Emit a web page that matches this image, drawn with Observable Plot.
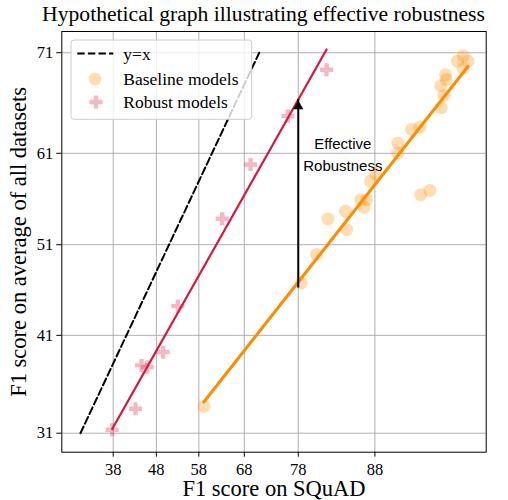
<!DOCTYPE html>
<html>
<head>
<meta charset="utf-8">
<script src="https://cdn.jsdelivr.net/npm/d3@7"></script>
<script src="https://cdn.jsdelivr.net/npm/@observablehq/plot@0.6"></script>
<style>
  html, body { margin: 0; padding: 0; background: #fff; }
  #wrap { position: relative; width: 508px; height: 500px; }
  #legend { position: absolute; left: 0; top: 0; pointer-events: none; }
</style>
</head>
<body>
<div id="wrap"></div>
<script>
// ---------- data ----------
const title = "Hypothetical graph illustrating effective robustness";
const xLabel = "F1 score on SQuAD";
const yLabel = "F1 score on average of all datasets";
const xTicks = [38, 48, 58, 68, 78, 88];
const yTicks = [31, 41, 51, 61, 71];
const xLimits = [27.35, 95.47];
const yLimits = [29.22, 72.91];

const baselineX = [94.43, 94.13, 94.66, 94.43, 93.48, 93.52, 93.19, 93.38, 93.23, 91.83,
                   91.22, 90.12, 90.12, 88.07, 87.57, 92.51, 91.88, 86.50, 87.15, 86.88,
                   84.74, 82.46, 84.87, 80.83, 78.48, 59.15];
const baselineY = [70.72, 70.22, 70.22, 69.55, 68.94, 68.46, 67.88, 66.93, 65.71, 63.73,
                   63.50, 62.07, 61.02, 58.81, 58.01, 57.00, 56.54, 55.98, 55.98, 55.16,
                   54.72, 53.86, 52.70, 49.92, 46.76, 33.61];

const robustX = [82.26, 76.26, 69.28, 63.29, 53.08, 49.62, 44.50, 45.83, 43.09, 37.78];
const robustY = [69.42, 64.86, 59.81, 53.88, 44.18, 39.20, 37.80, 37.62, 33.38, 31.33];

const identityRange = [31, 71];           // y = x reference line
const arrowAtX = 78;                       // where effective robustness is measured
const annotationText = "Effective\nRobustness";
const annotationAt = [84.4, 61];

// ---------- helpers ----------
const logit = v => Math.log(v / (100 - v));
const unlogit = t => 100 / (1 + Math.exp(-t));
function fit(xs, ys) {
  const lx = xs.map(logit), ly = ys.map(logit);
  const mx = d3.mean(lx), my = d3.mean(ly);
  const b = d3.sum(lx, (v, i) => (v - mx) * (ly[i] - my)) / d3.sum(lx, v => (v - mx) ** 2);
  return t => my + b * (t - mx);
}

const baseline = baselineX.map((x, i) => ({x, y: baselineY[i]}));
const robust = robustX.map((x, i) => ({x, y: robustY[i]}));
const fitB = fit(baselineX, baselineY);
const fitR = fit(robustX, robustY);
const ax = logit(arrowAtX);

const LX = d => logit(d.x), LY = d => logit(d.y);
const serif = "'Liberation Serif', 'Times New Roman', serif";
const ORANGE = "#ff8c00", CRIMSON = "#dc143c";

const chart = Plot.plot({
  width: 508,
  height: 500,
  marginLeft: 61.3,
  marginRight: 22.3,
  marginTop: 31,
  marginBottom: 48.3,
  style: {fontFamily: serif, fontSize: "16.5px", background: "white", color: "black", overflow: "visible"},
  x: {type: "linear", domain: xLimits.map(logit)},
  y: {type: "linear", domain: yLimits.map(logit)},
  marks: [
    Plot.gridX(xTicks.map(logit), {stroke: "#b0b0b0", strokeOpacity: 1, strokeWidth: 1}),
    Plot.gridY(yTicks.map(logit), {stroke: "#b0b0b0", strokeOpacity: 1, strokeWidth: 1}),
    Plot.line(identityRange, {x: d => logit(d), y: d => logit(d), stroke: "black", strokeWidth: 2, strokeDasharray: "7.4,3.2"}),
    Plot.dot(baseline, {x: LX, y: LY, r: 6.5, fill: ORANGE, fillOpacity: 0.3}),
    Plot.dot(robust, {x: LX, y: LY, symbol: "cross", r: 5.5, fill: CRIMSON, fillOpacity: 0.3}),
    Plot.linearRegressionY(baseline, {x: LX, y: LY, stroke: ORANGE, strokeWidth: 3, ci: 0}),
    Plot.linearRegressionY(robust, {x: LX, y: LY, stroke: CRIMSON, strokeWidth: 2.2, ci: 0}),
    Plot.ruleX([ax], {x: d => d, y1: fitB(ax), y2: fitR(ax), stroke: "black", strokeWidth: 2, insetTop: 6}),
    Plot.dot([ax], {x: d => d, y: fitR(ax), symbol: "triangle", r: 3.8, fill: "black", stroke: "none", dy: 6.8}),
    Plot.text([annotationText], {x: logit(annotationAt[0]), y: logit(annotationAt[1]), text: d => d,
      fontFamily: "'Liberation Sans', Arial, sans-serif", fontSize: 15, lineHeight: 1.45, fill: "black"}),
    Plot.frame({stroke: "black", strokeWidth: 1}),
    Plot.axisX(xTicks.map(logit), {tickFormat: t => Math.round(unlogit(t)), tickSize: 5, tickPadding: 6, label: null, fontSize: 16.5}),
    Plot.axisY(yTicks.map(logit), {tickFormat: t => Math.round(unlogit(t)), tickSize: 5, tickPadding: 3.5, label: null, fontSize: 16.5}),
    Plot.text([xLabel], {frameAnchor: "bottom", lineAnchor: "bottom", textAnchor: "middle", dy: 43.8, text: d => d, fontSize: 22.5}),
    Plot.text([yLabel], {frameAnchor: "left", lineAnchor: "bottom", textAnchor: "middle", rotate: -90, dx: -36.3, text: d => d, fontSize: 22.5})
  ]
});
document.getElementById("wrap").appendChild(chart);

// ---------- overlay: title and legend ----------
const lg = d3.select("#wrap").append("svg").attr("id", "legend").attr("width", 508).attr("height", 500);

const t = lg.append("text").attr("x", 263.5).attr("y", 20.5).attr("text-anchor", "middle")
  .attr("font-family", serif).attr("font-size", 21.6).attr("fill", "black").text(title);
const tw = t.node().getComputedTextLength();
if (tw > 0) t.attr("font-size", 21.6 * 443 / tw);

lg.append("rect").attr("x", 71).attr("y", 40).attr("width", 180.7).attr("height", 79.3)
  .attr("rx", 3).attr("fill", "white").attr("fill-opacity", 0.8).attr("stroke", "#cccccc").attr("stroke-width", 1);
const rows = [
  {label: "y=x", cy: 53.5, kind: "line"},
  {label: "Baseline models", cy: 79, kind: "circle"},
  {label: "Robust models", cy: 102, kind: "cross"}
];
rows.forEach(r => {
  if (r.kind === "line") {
    lg.append("line").attr("x1", 77.3).attr("x2", 113.3).attr("y1", r.cy).attr("y2", r.cy)
      .attr("stroke", "black").attr("stroke-width", 2).attr("stroke-dasharray", "7.4,3.2");
  } else if (r.kind === "circle") {
    lg.append("circle").attr("cx", 95).attr("cy", r.cy).attr("r", 6.5).attr("fill", ORANGE).attr("fill-opacity", 0.3);
  } else {
    lg.append("path").attr("d", d3.symbol(d3.symbolCross, Math.PI * 5.5 * 5.5)())
      .attr("transform", `translate(96,${r.cy})`).attr("fill", CRIMSON).attr("fill-opacity", 0.3);
  }
  lg.append("text").attr("x", 123.3).attr("y", r.cy + 6).attr("font-family", serif).attr("font-size", 17.5)
    .attr("fill", "black").text(r.label);
});
</script>
</body>
</html>
